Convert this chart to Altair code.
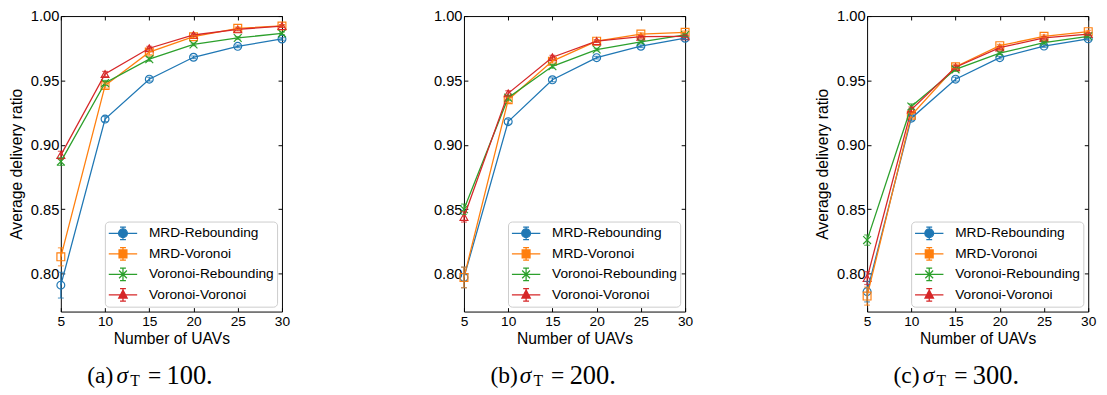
import altair as alt
import pandas as pd

uavs = [5, 10, 15, 20, 25, 30]
y_ticks = [0.80, 0.85, 0.90, 0.95, 1.00]
series_names = ["MRD-Rebounding", "MRD-Voronoi", "Voronoi-Rebounding", "Voronoi-Voronoi"]
series_colors = ["#1f77b4", "#ff7f0e", "#2ca02c", "#d62728"]
marker_codes = ["o", "s", "x", "^"]
caption_letters = ["(a)", "(b)", "(c)"]
sigma_values = ["100", "200", "300"]

# Panel (a): sigma_T = 100
a_mrd_rebounding = [0.791, 0.920, 0.951, 0.968, 0.9765, 0.9822]
a_mrd_voronoi = [0.813, 0.946, 0.972, 0.984, 0.9905, 0.9923]
a_voronoi_rebounding = [0.887, 0.948, 0.9665, 0.978, 0.983, 0.9866]
a_voronoi_voronoi = [0.892, 0.955, 0.975, 0.9853, 0.9897, 0.9922]
a_err_mrd_rebounding = [0.010, 0.002, 0.0015, 0.001, 0.001, 0.001]
a_err_mrd_voronoi = [0.007, 0.002, 0.002, 0.001, 0.001, 0.001]
a_err_voronoi_rebounding = [0.003, 0.002, 0.0015, 0.001, 0.001, 0.001]
a_err_voronoi_voronoi = [0.003, 0.002, 0.0015, 0.001, 0.001, 0.001]

# Panel (b): sigma_T = 200
b_mrd_rebounding = [0.797, 0.918, 0.9505, 0.9677, 0.9766, 0.9828]
b_mrd_voronoi = [0.797, 0.935, 0.965, 0.9805, 0.986, 0.9874]
b_voronoi_rebounding = [0.850, 0.9366, 0.961, 0.974, 0.980, 0.9853]
b_voronoi_voronoi = [0.844, 0.940, 0.968, 0.9805, 0.984, 0.9843]
b_err_mrd_rebounding = [0.008, 0.002, 0.0015, 0.001, 0.001, 0.001]
b_err_mrd_voronoi = [0.008, 0.002, 0.0015, 0.001, 0.001, 0.001]
b_err_voronoi_rebounding = [0.004, 0.002, 0.0015, 0.001, 0.001, 0.001]
b_err_voronoi_voronoi = [0.004, 0.002, 0.0015, 0.001, 0.001, 0.001]

# Panel (c): sigma_T = 300
c_mrd_rebounding = [0.786, 0.9207, 0.951, 0.9677, 0.9767, 0.9823]
c_mrd_voronoi = [0.7825, 0.923, 0.9606, 0.977, 0.9843, 0.9879]
c_voronoi_rebounding = [0.826, 0.9298, 0.9586, 0.9712, 0.9793, 0.9843]
c_voronoi_voronoi = [0.7965, 0.9274, 0.9603, 0.9755, 0.983, 0.986]
c_err_mrd_rebounding = [0.008, 0.002, 0.0015, 0.001, 0.001, 0.001]
c_err_mrd_voronoi = [0.007, 0.002, 0.0015, 0.001, 0.001, 0.001]
c_err_voronoi_rebounding = [0.004, 0.002, 0.0015, 0.001, 0.001, 0.001]
c_err_voronoi_voronoi = [0.005, 0.002, 0.0015, 0.001, 0.001, 0.001]

panel_values = [
    [a_mrd_rebounding, a_mrd_voronoi, a_voronoi_rebounding, a_voronoi_voronoi],
    [b_mrd_rebounding, b_mrd_voronoi, b_voronoi_rebounding, b_voronoi_voronoi],
    [c_mrd_rebounding, c_mrd_voronoi, c_voronoi_rebounding, c_voronoi_voronoi],
]
panel_errors = [
    [a_err_mrd_rebounding, a_err_mrd_voronoi, a_err_voronoi_rebounding, a_err_voronoi_voronoi],
    [b_err_mrd_rebounding, b_err_mrd_voronoi, b_err_voronoi_rebounding, b_err_voronoi_voronoi],
    [c_err_mrd_rebounding, c_err_mrd_voronoi, c_err_voronoi_rebounding, c_err_voronoi_voronoi],
]

W, H = 226, 302
FONT = "Liberation Sans"
SERIF = "Liberation Serif"

# legend symbols: line + marker + error bar (units scaled by sqrt(size)/2)
line_p = "M-1,0H2.625"
err_p = "M0.8125,-0.8V0.8M0.4375,-0.8H1.1875M0.4375,0.8H1.1875"
marker_paths = [
    "M0.25,0A0.5625,0.5625 0 1 0 1.375,0A0.5625,0.5625 0 1 0 0.25,0",
    "M0.3125,-0.5H1.3125V0.5H0.3125Z",
    "M0.3125,-0.5L1.3125,0.5M0.3125,0.5L1.3125,-0.5",
    "M0.8125,-0.62L1.35,0.4L0.275,0.4Z",
]
legend_paths = [line_p + err_p + m for m in marker_paths]
shape_expr = (
    f"datum.value === '{series_names[0]}' ? '{legend_paths[0]}' : "
    f"datum.value === '{series_names[1]}' ? '{legend_paths[1]}' : "
    f"datum.value === '{series_names[2]}' ? '{legend_paths[2]}' : '{legend_paths[3]}'"
)

point_shapes = ["circle", "square", "M-1,-1L1,1M-1,1L1,-1", "triangle-up"]


def build_df(values, errors):
    rows = []
    for name, code, vals, errs in zip(series_names, marker_codes, values, errors):
        for x, y, e in zip(uavs, vals, errs):
            rows.append({"series": name, "marker": code, "x": x, "y": y, "lo": y - e, "hi": y + e})
    return pd.DataFrame(rows)


def make_panel(i):
    df = build_df(panel_values[i], panel_errors[i])
    xs = alt.Scale(domain=[5, 30], nice=False, zero=False)
    ys = alt.Scale(domain=[0.7705, 1.0], nice=False, zero=False)
    cscale = alt.Scale(domain=series_names, range=series_colors)
    legend = alt.Legend(
        title=None, orient="bottom-right", offset=5, padding=3, cornerRadius=4,
        strokeColor="#cccccc", fillColor="rgba(255,255,255,0.85)",
        labelFont=FONT, labelFontSize=14, labelColor="black", labelOffset=24,
        symbolSize=256, symbolStrokeWidth=1.3, rowPadding=3,
        symbolType={"expr": shape_expr},
    )
    ytitle = "Average delivery ratio" if i != 1 else None
    x_bottom = alt.Axis(values=uavs, tickSize={"expr": "-4"}, labelPadding=7,
                        labelFontSize=14, labelFlush=False, labelOverlap=False,
                        titleFontSize=16, titlePadding=3)
    y_left = alt.Axis(values=y_ticks, format=".2f", tickSize={"expr": "-4"},
                      labelPadding=6, labelFontSize=15, labelFlush=False,
                      labelOverlap=False, titleFontSize=16, titlePadding=6)
    x_top = alt.Axis(orient="top", values=uavs, tickSize={"expr": "-4"}, labels=False)
    y_right = alt.Axis(orient="right", values=y_ticks, tickSize={"expr": "-4"}, labels=False)

    base = alt.Chart(df)
    points = base.mark_point(filled=False, size=64, strokeWidth=1.2, opacity=1).encode(
        x=alt.X("x:Q", scale=xs, axis=x_top, title=None),
        y=alt.Y("y:Q", scale=ys, axis=y_right, title=None),
        color=alt.Color("series:N", scale=cscale, legend=legend, sort=series_names),
        shape=alt.Shape("marker:N", scale=alt.Scale(domain=marker_codes, range=point_shapes), legend=None),
    )
    lines = base.mark_line(strokeWidth=1.3).encode(
        x=alt.X("x:Q", scale=xs, axis=x_bottom, title="Number of UAVs"),
        y=alt.Y("y:Q", scale=ys, axis=y_left, title=ytitle),
        color=alt.Color("series:N", scale=cscale, legend=None, sort=series_names),
    )
    bars = base.mark_rule(strokeWidth=1.2).encode(
        x=alt.X("x:Q", scale=xs, axis=None),
        y=alt.Y("lo:Q", scale=ys, axis=None),
        y2="hi:Q",
        color=alt.Color("series:N", scale=cscale, legend=None),
    )
    caps = base.transform_fold(["lo", "hi"], as_=["k", "v"]).mark_tick(
        orient="horizontal", size=6, thickness=1.2
    ).encode(
        x=alt.X("x:Q", scale=xs, axis=None),
        y=alt.Y("v:Q", scale=ys, axis=None),
        color=alt.Color("series:N", scale=cscale, legend=None),
    )
    cap_df = pd.DataFrame({"letter": [caption_letters[i]], "eq": ["="], "num": [sigma_values[i] + "."],
                           "sig": ["σ"], "sub": ["T"]})
    cbase = alt.Chart(cap_df)
    X0, CY, FS = 27, 368, 24
    t1 = cbase.mark_text(font=SERIF, fontSize=FS, align="left", baseline="middle", color="black").encode(
        x=alt.value(X0), y=alt.value(CY), text="letter:N")
    t2 = cbase.mark_text(font=SERIF, fontSize=FS, fontStyle="italic", align="left", baseline="middle", color="black").encode(
        x=alt.value(X0 + 30), y=alt.value(CY), text="sig:N")
    t3 = cbase.mark_text(font=SERIF, fontSize=16, align="left", baseline="middle", color="black").encode(
        x=alt.value(X0 + 44), y=alt.value(CY + 5), text="sub:N")
    t4 = cbase.mark_text(font=SERIF, fontSize=FS, align="left", baseline="middle", color="black").encode(
        x=alt.value(X0 + 62), y=alt.value(CY), text="eq:N")
    t5 = cbase.mark_text(font=SERIF, fontSize=27, align="left", baseline="middle", color="black").encode(
        x=alt.value(X0 + 81), y=alt.value(CY), text="num:N")

    return alt.layer(points, lines, bars, caps, t1, t2, t3, t4, t5).resolve_axis(
        x="independent", y="independent"
    ).properties(width=W, height=H)


chart = alt.hconcat(make_panel(0), make_panel(1), make_panel(2), spacing=186, bounds="flush").resolve_scale(
    color="independent", shape="independent"
).resolve_legend(color="independent").properties(
    padding={"left": 0, "top": -4, "right": 2, "bottom": 0}
).configure_view(stroke="black", strokeWidth=1).configure_axis(
    domain=False, grid=False, labelFont=FONT, titleFont=FONT, tickColor="black",
    labelColor="black", titleColor="black", titleFontWeight="normal", tickWidth=1
)

chart.save("out.html", embed_options={"renderer": "svg", "actions": False})
